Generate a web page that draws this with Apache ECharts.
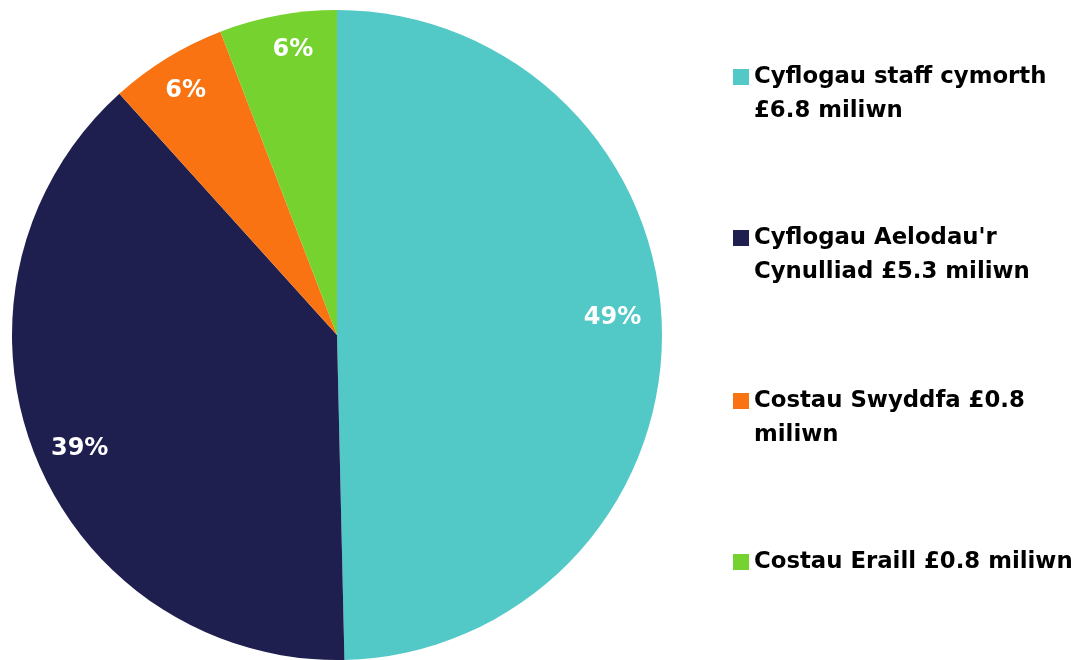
<!DOCTYPE html>
<html>
<head>
<meta charset="utf-8">
<script src="https://cdn.jsdelivr.net/npm/echarts@6/dist/echarts.min.js"></script>
<style>
  html, body { margin: 0; padding: 0; background: #ffffff; }
  #chart { width: 1085px; height: 660px; }
</style>
</head>
<body>
<div id="chart"></div>
<script>
// ---- data ----
const categories = ['Cyflogau staff cymorth', "Cyflogau Aelodau'r Cynulliad", 'Costau Swyddfa', 'Costau Eraill'];
const legendLabels = ['Cyflogau staff cymorth\n£6.8 miliwn', "Cyflogau Aelodau'r\nCynulliad £5.3 miliwn", 'Costau Swyddfa £0.8\nmiliwn', 'Costau Eraill £0.8 miliwn'];
const values = [6.8, 5.3, 0.8, 0.8];             // £ miliwn
const pctLabels = ['49%', '39%', '6%', '6%'];    // printed labels
const colors = ['#52C8C7', '#1E1E4F', '#F97312', '#76D22F'];

// ---- styling ----
const FONT = '"DejaVu Sans", Inter, sans-serif';
const labelOffsets = [[-10, -14], [8, 8], [-2, -1], [8, -5]];
const legendTops = [60, 221, 384, 545];

const chart = echarts.init(document.getElementById('chart'), null, { renderer: 'canvas' });

const squareTop = 'path://M0,0H16V16H0Z M0,50L0.001,50';
const legends = categories.map((c, i) => {
  const twoLine = legendLabels[i].indexOf('\n') >= 0;
  return {
    show: true,
    orient: 'vertical',
    left: 733,
    top: legendTops[i],
    padding: 0,
    selectedMode: false,
    data: [{ name: c, icon: twoLine ? squareTop : 'rect' }],
    itemWidth: 16,
    itemHeight: twoLine ? 50 : 16,
    itemStyle: { borderWidth: 0 },
    formatter: () => legendLabels[i],
    textStyle: { fontFamily: FONT, fontWeight: 'bold', fontSize: 22.8, color: '#000000', lineHeight: 34 }
  };
});

chart.setOption({
  animation: false,
  backgroundColor: '#ffffff',
  legend: legends,
  series: [
    {
      type: 'pie',
      center: [337, 335],
      radius: [0, 325],
      startAngle: 90,
      clockwise: true,
      silent: true,
      label: { show: false },
      labelLine: { show: false },
      itemStyle: { borderWidth: 0 },
      data: categories.map((c, i) => ({ name: c, value: values[i], itemStyle: { color: colors[i] } }))
    },
    {
      type: 'pie',
      center: [337, 335],
      radius: [240, 325],
      startAngle: 90,
      clockwise: true,
      silent: true,
      itemStyle: { color: 'transparent', borderWidth: 0 },
      label: {
        show: true,
        position: 'inside',
        formatter: (p) => pctLabels[p.dataIndex],
        fontFamily: FONT,
        fontWeight: 'bold',
        fontSize: 24,
        color: '#ffffff'
      },
      labelLine: { show: false },
      data: categories.map((c, i) => ({ name: c, value: values[i], label: { offset: labelOffsets[i] } }))
    }
  ]
});
</script>
</body>
</html>
